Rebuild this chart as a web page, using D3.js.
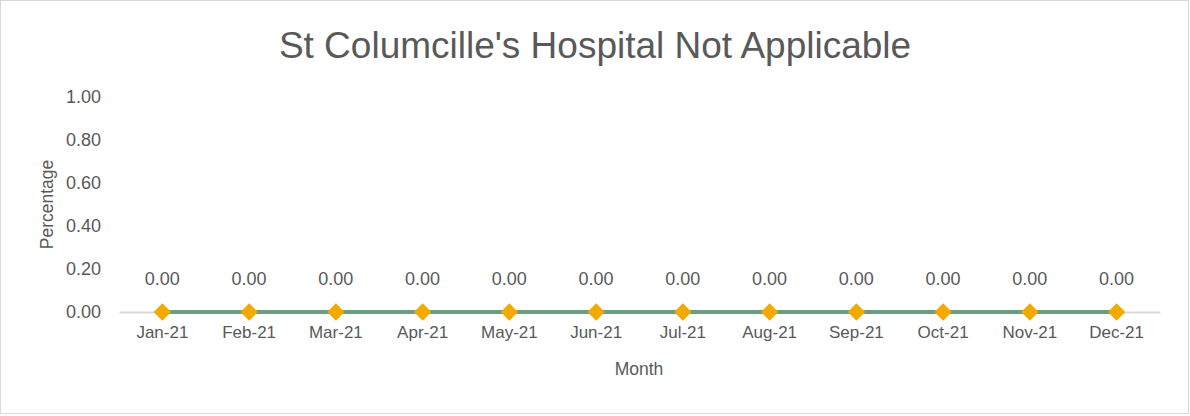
<!DOCTYPE html>
<html><head><meta charset="utf-8">
<script src="https://cdn.jsdelivr.net/npm/d3@7"></script>
<style>body{margin:0;background:#fff;font-family:"Liberation Sans",Arial,sans-serif;}</style>
</head><body>
<svg id="c" width="1190" height="416"></svg>
<script>
const months = ["Jan-21","Feb-21","Mar-21","Apr-21","May-21","Jun-21","Jul-21","Aug-21","Sep-21","Oct-21","Nov-21","Dec-21"];
const values = [0,0,0,0,0,0,0,0,0,0,0,0];
const yTicks = [0,0.2,0.4,0.6,0.8,1.0];
const chartTitle = "St Columcille's Hospital Not Applicable";

(function(){
const svg = d3.select("#c");
svg.append("rect").attr("x",0.5).attr("y",0.5).attr("width",1188).attr("height",413)
  .attr("fill","#fff").attr("stroke","#d9d9d9");
const pl=119, pr=1160, pt=97, pb=312;
const x = d3.scaleBand().domain(months).range([pl,pr]);
const y = d3.scaleLinear().domain([0,1]).range([pb,pt]);
const txt="#595959";
const ff="Liberation Sans, Arial, sans-serif";

svg.append("text").attr("x",595).attr("y",58).attr("text-anchor","middle")
  .attr("font-size",37).attr("fill",txt).text(chartTitle);

const ya = svg.append("g").attr("transform",`translate(${pl},0)`)
  .call(d3.axisLeft(y).tickValues(yTicks).tickFormat(d3.format(".2f")).tickSize(0).tickPadding(18));
ya.select(".domain").remove();
ya.selectAll("text").attr("font-size",18).attr("fill",txt).attr("font-family",ff);

const xa = svg.append("g").attr("transform",`translate(0,${pb})`)
  .call(d3.axisBottom(x).tickSize(0).tickPadding(14));
xa.select(".domain").attr("stroke","#d9d9d9").attr("stroke-width",2);
xa.selectAll("text").attr("font-size",17).attr("fill",txt).attr("font-family",ff);

svg.append("text").attr("transform",`translate(53,${(pt+pb)/2}) rotate(-90)`)
  .attr("text-anchor","middle").attr("font-size",17.5).attr("fill",txt).text("Percentage");
svg.append("text").attr("x",639).attr("y",375).attr("text-anchor","middle")
  .attr("font-size",17.5).attr("fill",txt).text("Month");

const cx = d => x(d)+x.bandwidth()/2;
const line = d3.line().x((d,i)=>cx(months[i])).y(d=>y(d));
svg.append("path").datum(values).attr("d",line).attr("fill","none")
  .attr("stroke","#6a9e80").attr("stroke-width",4);

svg.selectAll(".m").data(values).enter().append("path")
  .attr("d",d3.symbol().type(d3.symbolSquare).size(150))
  .attr("transform",(d,i)=>`translate(${cx(months[i])},${y(d)}) rotate(45)`)
  .attr("fill","#f2a900");

svg.selectAll(".lbl").data(values).enter().append("text")
  .attr("x",(d,i)=>cx(months[i])).attr("y",d=>y(d)-27).attr("text-anchor","middle")
  .attr("font-size",18).attr("fill",txt).attr("font-family",ff).text(d=>d3.format(".2f")(d));
})();
</script>
</body></html>
